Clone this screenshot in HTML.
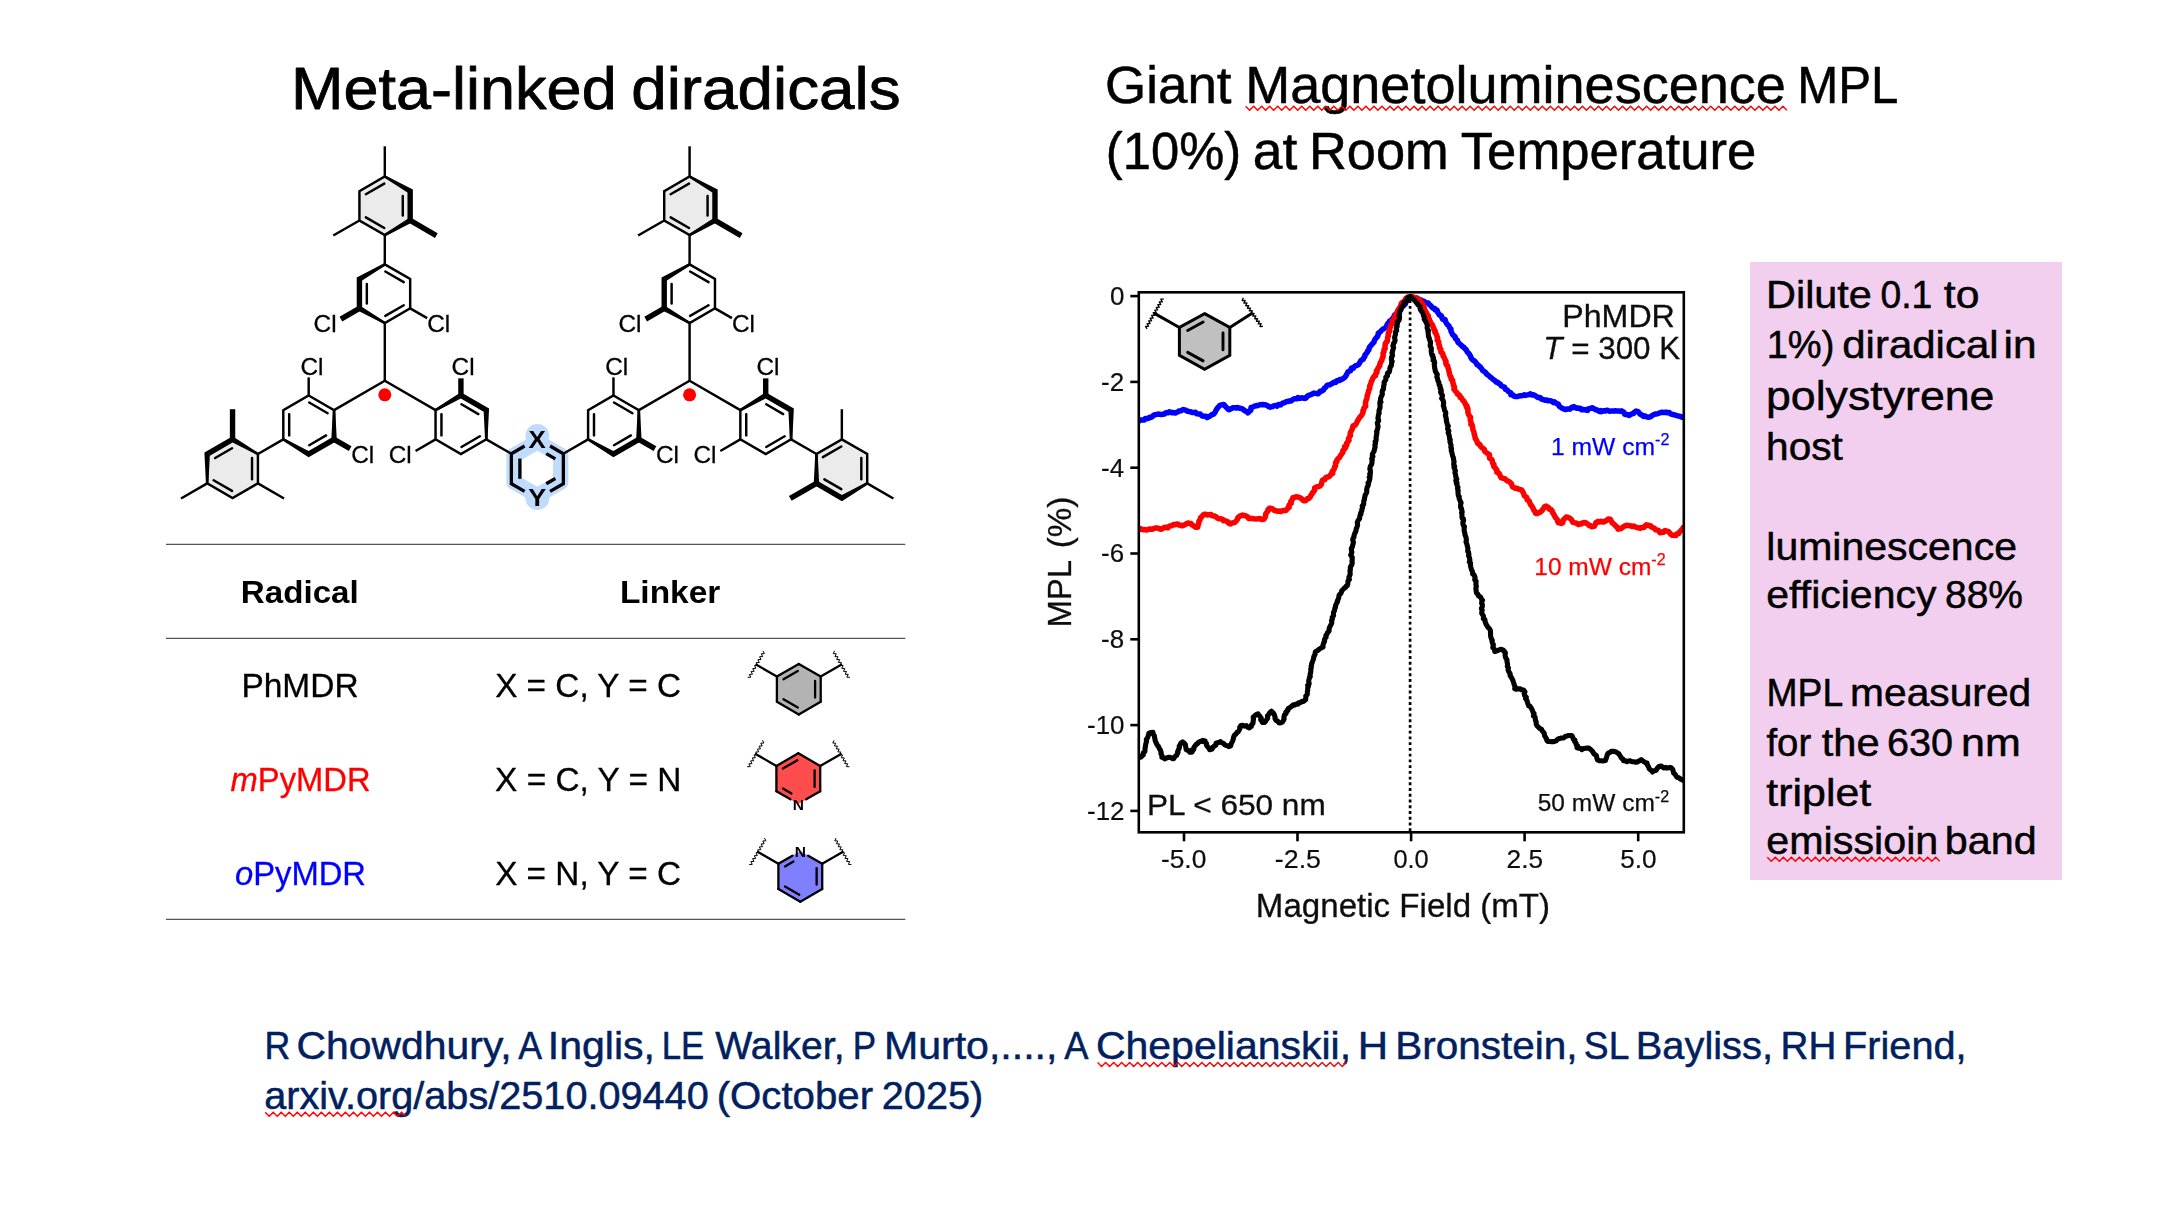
<!DOCTYPE html>
<html lang="en">
<head>
<meta charset="utf-8">
<title>Meta-linked diradicals</title>
<style>
html,body{margin:0;padding:0;background:#fff;}
body{width:2182px;height:1224px;}
svg{display:block;font-family:"Liberation Sans",sans-serif;}
</style>
</head>
<body>
<svg width="2182" height="1224" viewBox="0 0 2182 1224">
<defs><filter id="soft" x="-2%" y="-2%" width="104%" height="104%"><feGaussianBlur stdDeviation="0.45"/></filter></defs>
<rect x="0" y="0" width="2182" height="1224" fill="#fff"/>
<g id="titles">
<g>
<text x="291.04" y="108.50" font-size="58.8" textLength="325.66" lengthAdjust="spacingAndGlyphs" stroke="#000" stroke-width="0.8" stroke-linejoin="round">Meta-linked</text>
<text x="631.23" y="108.50" font-size="58.8" textLength="269.34" lengthAdjust="spacingAndGlyphs" stroke="#000" stroke-width="0.8" stroke-linejoin="round">diradicals</text>
</g>
<g>
<text x="1105.14" y="103.20" font-size="51.0" textLength="126.41" lengthAdjust="spacingAndGlyphs" stroke="#000" stroke-width="0.5" stroke-linejoin="round">Giant</text>
<text x="1245.21" y="103.20" font-size="51.0" textLength="540.69" lengthAdjust="spacingAndGlyphs" stroke="#000" stroke-width="0.5" stroke-linejoin="round">Magnetoluminescence</text>
<text x="1797.19" y="103.20" font-size="51.0" textLength="101.17" lengthAdjust="spacingAndGlyphs" stroke="#000" stroke-width="0.5" stroke-linejoin="round">MPL</text>
</g>
<g>
<text x="1105.87" y="169.00" font-size="51.0" textLength="135.31" lengthAdjust="spacingAndGlyphs" stroke="#000" stroke-width="0.5" stroke-linejoin="round">(10%)</text>
<text x="1252.75" y="169.00" font-size="51.0" textLength="44.57" lengthAdjust="spacingAndGlyphs" stroke="#000" stroke-width="0.5" stroke-linejoin="round">at</text>
<text x="1308.94" y="169.00" font-size="51.0" textLength="139.74" lengthAdjust="spacingAndGlyphs" stroke="#000" stroke-width="0.5" stroke-linejoin="round">Room</text>
<text x="1460.82" y="169.00" font-size="51.0" textLength="295.42" lengthAdjust="spacingAndGlyphs" stroke="#000" stroke-width="0.5" stroke-linejoin="round">Temperature</text>
</g>
<polyline points="1245.60,106.30 1249.61,110.30 1253.62,106.30 1257.63,110.30 1261.64,106.30 1265.65,110.30 1269.66,106.30 1273.67,110.30 1277.68,106.30 1281.69,110.30 1285.70,106.30 1289.71,110.30 1293.72,106.30 1297.73,110.30 1301.74,106.30 1305.75,110.30 1309.76,106.30 1313.77,110.30 1317.78,106.30 1321.79,110.30 1325.80,106.30 1329.81,110.30 1333.82,106.30 1337.83,110.30 1341.84,106.30 1345.85,110.30 1349.86,106.30 1353.87,110.30 1357.88,106.30 1361.89,110.30 1365.90,106.30 1369.91,110.30 1373.92,106.30 1377.93,110.30 1381.94,106.30 1385.95,110.30 1389.96,106.30 1393.97,110.30 1397.98,106.30 1401.99,110.30 1406.00,106.30 1410.01,110.30 1414.02,106.30 1418.03,110.30 1422.04,106.30 1426.05,110.30 1430.06,106.30 1434.07,110.30 1438.08,106.30 1442.09,110.30 1446.10,106.30 1450.11,110.30 1454.12,106.30 1458.13,110.30 1462.14,106.30 1466.15,110.30 1470.16,106.30 1474.17,110.30 1478.18,106.30 1482.19,110.30 1486.20,106.30 1490.21,110.30 1494.22,106.30 1498.23,110.30 1502.24,106.30 1506.25,110.30 1510.26,106.30 1514.27,110.30 1518.28,106.30 1522.29,110.30 1526.30,106.30 1530.31,110.30 1534.32,106.30 1538.33,110.30 1542.34,106.30 1546.35,110.30 1550.36,106.30 1554.37,110.30 1558.38,106.30 1562.39,110.30 1566.40,106.30 1570.41,110.30 1574.42,106.30 1578.43,110.30 1582.44,106.30 1586.45,110.30 1590.46,106.30 1594.47,110.30 1598.48,106.30 1602.49,110.30 1606.50,106.30 1610.51,110.30 1614.52,106.30 1618.53,110.30 1622.54,106.30 1626.55,110.30 1630.56,106.30 1634.57,110.30 1638.58,106.30 1642.59,110.30 1646.60,106.30 1650.61,110.30 1654.62,106.30 1658.63,110.30 1662.64,106.30 1666.65,110.30 1670.66,106.30 1674.67,110.30 1678.68,106.30 1682.69,110.30 1686.70,106.30 1690.71,110.30 1694.72,106.30 1698.73,110.30 1702.74,106.30 1706.75,110.30 1710.76,106.30 1714.77,110.30 1718.78,106.30 1722.79,110.30 1726.80,106.30 1730.81,110.30 1734.82,106.30 1738.83,110.30 1742.84,106.30 1746.85,110.30 1750.86,106.30 1754.87,110.30 1758.88,106.30 1762.89,110.30 1766.90,106.30 1770.91,110.30 1774.92,106.30 1778.93,110.30 1782.94,106.30 1786.95,110.30" fill="none" stroke="#f00" stroke-width="1.4" stroke-linejoin="miter"/>
</g>
<g id="note">
<rect x="1750" y="262" width="312" height="618" fill="#f2cfee"/>
<g>
<text x="1766.04" y="307.90" font-size="38.7" textLength="105.87" lengthAdjust="spacingAndGlyphs" stroke="#000" stroke-width="0.5" stroke-linejoin="round">Dilute</text>
<text x="1880.42" y="307.90" font-size="38.7" textLength="51.85" lengthAdjust="spacingAndGlyphs" stroke="#000" stroke-width="0.5" stroke-linejoin="round">0.1</text>
<text x="1943.85" y="307.90" font-size="38.7" textLength="35.60" lengthAdjust="spacingAndGlyphs" stroke="#000" stroke-width="0.5" stroke-linejoin="round">to</text>
</g>
<g>
<text x="1766.70" y="358.00" font-size="38.7" textLength="67.72" lengthAdjust="spacingAndGlyphs" stroke="#000" stroke-width="0.5" stroke-linejoin="round">1%)</text>
<text x="1842.28" y="358.00" font-size="38.7" textLength="156.31" lengthAdjust="spacingAndGlyphs" stroke="#000" stroke-width="0.5" stroke-linejoin="round">diradical</text>
<text x="2003.56" y="358.00" font-size="38.7" textLength="33.01" lengthAdjust="spacingAndGlyphs" stroke="#000" stroke-width="0.5" stroke-linejoin="round">in</text>
</g>
<g>
<text x="1766.02" y="409.60" font-size="41.5" textLength="228.43" lengthAdjust="spacingAndGlyphs" stroke="#000" stroke-width="0.5" stroke-linejoin="round">polystyrene</text>
</g>
<g>
<text x="1766.10" y="459.70" font-size="38.7" textLength="76.68" lengthAdjust="spacingAndGlyphs" stroke="#000" stroke-width="0.5" stroke-linejoin="round">host</text>
</g>
<g>
<text x="1766.27" y="559.80" font-size="38.7" textLength="250.72" lengthAdjust="spacingAndGlyphs" stroke="#000" stroke-width="0.5" stroke-linejoin="round">luminescence</text>
</g>
<g>
<text x="1766.33" y="607.90" font-size="38.7" textLength="170.13" lengthAdjust="spacingAndGlyphs" stroke="#000" stroke-width="0.5" stroke-linejoin="round">efficiency</text>
<text x="1945.04" y="607.90" font-size="38.7" textLength="77.96" lengthAdjust="spacingAndGlyphs" stroke="#000" stroke-width="0.5" stroke-linejoin="round">88%</text>
</g>
<g>
<text x="1766.56" y="706.00" font-size="38.7" textLength="76.70" lengthAdjust="spacingAndGlyphs" stroke="#000" stroke-width="0.5" stroke-linejoin="round">MPL</text>
<text x="1850.09" y="706.00" font-size="38.7" textLength="181.17" lengthAdjust="spacingAndGlyphs" stroke="#000" stroke-width="0.5" stroke-linejoin="round">measured</text>
</g>
<g>
<text x="1766.46" y="755.60" font-size="38.7" textLength="44.74" lengthAdjust="spacingAndGlyphs" stroke="#000" stroke-width="0.5" stroke-linejoin="round">for</text>
<text x="1821.77" y="755.60" font-size="38.7" textLength="57.89" lengthAdjust="spacingAndGlyphs" stroke="#000" stroke-width="0.5" stroke-linejoin="round">the</text>
<text x="1887.10" y="755.60" font-size="38.7" textLength="66.04" lengthAdjust="spacingAndGlyphs" stroke="#000" stroke-width="0.5" stroke-linejoin="round">630</text>
<text x="1961.02" y="755.60" font-size="38.7" textLength="59.68" lengthAdjust="spacingAndGlyphs" stroke="#000" stroke-width="0.5" stroke-linejoin="round">nm</text>
</g>
<g>
<text x="1766.34" y="805.70" font-size="38.7" textLength="104.88" lengthAdjust="spacingAndGlyphs" stroke="#000" stroke-width="0.5" stroke-linejoin="round">triplet</text>
</g>
<g>
<text x="1766.32" y="853.70" font-size="38.7" textLength="171.93" lengthAdjust="spacingAndGlyphs" stroke="#000" stroke-width="0.5" stroke-linejoin="round">emissioin</text>
<text x="1944.85" y="853.70" font-size="38.7" textLength="91.78" lengthAdjust="spacingAndGlyphs" stroke="#000" stroke-width="0.5" stroke-linejoin="round">band</text>
</g>
<polyline points="1767.30,857.20 1771.31,861.20 1775.32,857.20 1779.33,861.20 1783.34,857.20 1787.35,861.20 1791.36,857.20 1795.37,861.20 1799.38,857.20 1803.39,861.20 1807.40,857.20 1811.41,861.20 1815.42,857.20 1819.43,861.20 1823.44,857.20 1827.45,861.20 1831.46,857.20 1835.47,861.20 1839.48,857.20 1843.49,861.20 1847.50,857.20 1851.51,861.20 1855.52,857.20 1859.53,861.20 1863.54,857.20 1867.55,861.20 1871.56,857.20 1875.57,861.20 1879.58,857.20 1883.59,861.20 1887.60,857.20 1891.61,861.20 1895.62,857.20 1899.63,861.20 1903.64,857.20 1907.65,861.20 1911.66,857.20 1915.67,861.20 1919.68,857.20 1923.69,861.20 1927.70,857.20 1931.71,861.20 1935.72,857.20 1939.73,861.20" fill="none" stroke="#f00" stroke-width="1.4" stroke-linejoin="miter"/>
</g>
<g id="cite">
<g>
<text x="264.38" y="1058.90" font-size="38.7" textLength="25.77" lengthAdjust="spacingAndGlyphs" fill="#002060" stroke="#002060" stroke-width="0.5" stroke-linejoin="round">R</text>
<text x="296.54" y="1058.90" font-size="38.7" textLength="215.18" lengthAdjust="spacingAndGlyphs" fill="#002060" stroke="#002060" stroke-width="0.5" stroke-linejoin="round">Chowdhury,</text>
<text x="518.25" y="1058.90" font-size="38.7" textLength="23.83" lengthAdjust="spacingAndGlyphs" fill="#002060" stroke="#002060" stroke-width="0.5" stroke-linejoin="round">A</text>
<text x="547.81" y="1058.90" font-size="38.7" textLength="107.21" lengthAdjust="spacingAndGlyphs" fill="#002060" stroke="#002060" stroke-width="0.5" stroke-linejoin="round">Inglis,</text>
<text x="661.76" y="1058.90" font-size="38.7" textLength="42.49" lengthAdjust="spacingAndGlyphs" fill="#002060" stroke="#002060" stroke-width="0.5" stroke-linejoin="round">LE</text>
<text x="715.35" y="1058.90" font-size="38.7" textLength="129.19" lengthAdjust="spacingAndGlyphs" fill="#002060" stroke="#002060" stroke-width="0.5" stroke-linejoin="round">Walker,</text>
<text x="852.84" y="1058.90" font-size="38.7" textLength="23.35" lengthAdjust="spacingAndGlyphs" fill="#002060" stroke="#002060" stroke-width="0.5" stroke-linejoin="round">P</text>
<text x="883.96" y="1058.90" font-size="38.7" textLength="173.49" lengthAdjust="spacingAndGlyphs" fill="#002060" stroke="#002060" stroke-width="0.5" stroke-linejoin="round">Murto,....,</text>
<text x="1064.15" y="1058.90" font-size="38.7" textLength="24.22" lengthAdjust="spacingAndGlyphs" fill="#002060" stroke="#002060" stroke-width="0.5" stroke-linejoin="round">A</text>
<text x="1095.93" y="1058.90" font-size="38.7" textLength="255.11" lengthAdjust="spacingAndGlyphs" fill="#002060" stroke="#002060" stroke-width="0.5" stroke-linejoin="round">Chepelianskii,</text>
<text x="1357.69" y="1058.90" font-size="38.7" textLength="30.37" lengthAdjust="spacingAndGlyphs" fill="#002060" stroke="#002060" stroke-width="0.5" stroke-linejoin="round">H</text>
<text x="1395.31" y="1058.90" font-size="38.7" textLength="182.29" lengthAdjust="spacingAndGlyphs" fill="#002060" stroke="#002060" stroke-width="0.5" stroke-linejoin="round">Bronstein,</text>
<text x="1583.83" y="1058.90" font-size="38.7" textLength="45.50" lengthAdjust="spacingAndGlyphs" fill="#002060" stroke="#002060" stroke-width="0.5" stroke-linejoin="round">SL</text>
<text x="1635.76" y="1058.90" font-size="38.7" textLength="137.29" lengthAdjust="spacingAndGlyphs" fill="#002060" stroke="#002060" stroke-width="0.5" stroke-linejoin="round">Bayliss,</text>
<text x="1780.56" y="1058.90" font-size="38.7" textLength="55.78" lengthAdjust="spacingAndGlyphs" fill="#002060" stroke="#002060" stroke-width="0.5" stroke-linejoin="round">RH</text>
<text x="1843.07" y="1058.90" font-size="38.7" textLength="123.49" lengthAdjust="spacingAndGlyphs" fill="#002060" stroke="#002060" stroke-width="0.5" stroke-linejoin="round">Friend,</text>
</g>
<g>
<text x="264.20" y="1108.50" font-size="38.7" textLength="444.54" lengthAdjust="spacingAndGlyphs" fill="#002060" stroke="#002060" stroke-width="0.5" stroke-linejoin="round">arxiv.org/abs/2510.09440</text>
<text x="716.67" y="1108.50" font-size="38.7" textLength="156.40" lengthAdjust="spacingAndGlyphs" fill="#002060" stroke="#002060" stroke-width="0.5" stroke-linejoin="round">(October</text>
<text x="881.80" y="1108.50" font-size="38.7" textLength="101.37" lengthAdjust="spacingAndGlyphs" fill="#002060" stroke="#002060" stroke-width="0.5" stroke-linejoin="round">2025)</text>
</g>
</g>
<polyline points="1097.60,1062.50 1101.61,1066.50 1105.62,1062.50 1109.63,1066.50 1113.64,1062.50 1117.65,1066.50 1121.66,1062.50 1125.67,1066.50 1129.68,1062.50 1133.69,1066.50 1137.70,1062.50 1141.71,1066.50 1145.72,1062.50 1149.73,1066.50 1153.74,1062.50 1157.75,1066.50 1161.76,1062.50 1165.77,1066.50 1169.78,1062.50 1173.79,1066.50 1177.80,1062.50 1181.81,1066.50 1185.82,1062.50 1189.83,1066.50 1193.84,1062.50 1197.85,1066.50 1201.86,1062.50 1205.87,1066.50 1209.88,1062.50 1213.89,1066.50 1217.90,1062.50 1221.91,1066.50 1225.92,1062.50 1229.93,1066.50 1233.94,1062.50 1237.95,1066.50 1241.96,1062.50 1245.97,1066.50 1249.98,1062.50 1253.99,1066.50 1258.00,1062.50 1262.01,1066.50 1266.02,1062.50 1270.03,1066.50 1274.04,1062.50 1278.05,1066.50 1282.06,1062.50 1286.07,1066.50 1290.08,1062.50 1294.09,1066.50 1298.10,1062.50 1302.11,1066.50 1306.12,1062.50 1310.13,1066.50 1314.14,1062.50 1318.15,1066.50 1322.16,1062.50 1326.17,1066.50 1330.18,1062.50 1334.19,1066.50 1338.20,1062.50 1342.21,1066.50 1346.22,1062.50" fill="none" stroke="#f00" stroke-width="1.4" stroke-linejoin="miter"/>
<polyline points="265.20,1112.30 269.21,1116.30 273.22,1112.30 277.23,1116.30 281.24,1112.30 285.25,1116.30 289.26,1112.30 293.27,1116.30 297.28,1112.30 301.29,1116.30 305.30,1112.30 309.31,1116.30 313.32,1112.30 317.33,1116.30 321.34,1112.30 325.35,1116.30 329.36,1112.30 333.37,1116.30 337.38,1112.30 341.39,1116.30 345.40,1112.30 349.41,1116.30 353.42,1112.30 357.43,1116.30 361.44,1112.30 365.45,1116.30 369.46,1112.30 373.47,1116.30 377.48,1112.30 381.49,1116.30 385.50,1112.30 389.51,1116.30 393.52,1112.30 397.53,1116.30 401.54,1112.30 405.55,1116.30" fill="none" stroke="#f00" stroke-width="1.4" stroke-linejoin="miter"/>
<g id="molecule" filter="url(#soft)">
<polygon points="537.35,441.80 560.64,455.25 560.64,482.15 537.35,495.60 514.05,482.15 514.05,455.25" fill="none" stroke="#c0dcfc" stroke-width="15.4" stroke-linejoin="round"/>
<circle cx="537.35" cy="435.8" r="11.9" fill="#c0dcfc"/>
<circle cx="537.35" cy="498.2" r="11.9" fill="#c0dcfc"/>
<g stroke="#000" fill="none">
<line x1="384.80" y1="380.80" x2="384.80" y2="323.00" stroke-width="2.45" stroke-linecap="butt"/>
<polygon points="384.80,264.40 410.17,279.05 410.17,308.35 384.80,323.00 359.43,308.35 359.43,279.05" fill="none" stroke-width="2.45" stroke-linejoin="miter"/>
<line x1="366.83" y1="303.48" x2="366.83" y2="283.92" stroke-width="2.45" stroke-linecap="round"/>
<line x1="385.32" y1="271.51" x2="403.75" y2="282.16" stroke-width="2.45" stroke-linecap="round"/>
<line x1="403.75" y1="305.24" x2="385.32" y2="315.89" stroke-width="2.45" stroke-linecap="round"/>
<polygon points="384.19,263.34 356.73,277.40 356.73,310.00 384.19,324.06 385.41,321.94 362.13,306.88 362.13,280.52 385.41,265.46" fill="#000" stroke="none"/>
<line x1="359.86" y1="308.10" x2="340.89" y2="319.05" stroke-width="5.4" stroke-linecap="butt"/>
<line x1="410.17" y1="308.35" x2="427.15" y2="318.15" stroke-width="2.45" stroke-linecap="butt"/>
<line x1="384.80" y1="264.40" x2="384.80" y2="235.10" stroke-width="2.45" stroke-linecap="butt"/>
<polygon points="384.80,176.50 410.17,191.15 410.17,220.45 384.80,235.10 359.43,220.45 359.43,191.15" fill="#ebebeb" stroke-width="2.45" stroke-linejoin="miter"/>
<line x1="365.85" y1="194.26" x2="384.28" y2="183.61" stroke-width="2.45" stroke-linecap="round"/>
<line x1="402.77" y1="196.02" x2="402.77" y2="215.58" stroke-width="2.45" stroke-linecap="round"/>
<line x1="384.28" y1="227.99" x2="365.85" y2="217.34" stroke-width="2.45" stroke-linecap="round"/>
<polygon points="384.19,177.56 407.47,192.62 407.47,218.98 384.19,234.04 385.41,236.16 412.87,222.10 412.87,189.50 385.41,175.44" fill="#000" stroke="none"/>
<line x1="384.80" y1="176.50" x2="384.80" y2="146.30" stroke-width="2.45" stroke-linecap="butt"/>
<line x1="359.43" y1="220.45" x2="333.27" y2="235.55" stroke-width="2.45" stroke-linecap="butt"/>
<line x1="409.74" y1="220.20" x2="436.33" y2="235.55" stroke-width="5.4" stroke-linecap="butt"/>
<polygon points="308.68,395.45 334.05,410.10 334.05,439.40 308.68,454.05 283.30,439.40 283.30,410.10" fill="none" stroke-width="2.45" stroke-linejoin="miter"/>
<line x1="309.20" y1="402.56" x2="327.63" y2="413.21" stroke-width="2.45" stroke-linecap="round"/>
<line x1="326.13" y1="435.43" x2="309.20" y2="445.21" stroke-width="2.45" stroke-linecap="round"/>
<line x1="289.20" y1="435.39" x2="289.20" y2="414.11" stroke-width="2.45" stroke-linecap="round"/>
<polygon points="332.83,410.10 331.43,437.79 308.60,450.98 283.91,438.34 282.69,440.46 308.60,457.21 336.83,440.91 335.28,410.10" fill="#000" stroke="none"/>
<line x1="384.80" y1="380.80" x2="334.05" y2="410.10" stroke-width="2.45" stroke-linecap="butt"/>
<line x1="308.68" y1="395.45" x2="308.68" y2="377.35" stroke-width="2.45" stroke-linecap="butt"/>
<line x1="333.62" y1="439.15" x2="350.16" y2="448.70" stroke-width="5.4" stroke-linecap="butt"/>
<polygon points="460.92,395.45 486.30,410.10 486.30,439.40 460.92,454.05 435.55,439.40 435.55,410.10" fill="none" stroke-width="2.45" stroke-linejoin="miter"/>
<line x1="441.45" y1="435.39" x2="441.45" y2="414.11" stroke-width="2.45" stroke-linecap="round"/>
<line x1="461.44" y1="404.29" x2="478.38" y2="414.07" stroke-width="2.45" stroke-linecap="round"/>
<line x1="479.88" y1="436.29" x2="461.44" y2="446.94" stroke-width="2.45" stroke-linecap="round"/>
<polygon points="436.16,411.16 460.84,398.52 483.68,411.71 485.07,439.40 487.52,439.40 489.07,408.59 460.85,392.29 434.94,409.04" fill="#000" stroke="none"/>
<line x1="384.80" y1="380.80" x2="435.55" y2="410.10" stroke-width="2.45" stroke-linecap="butt"/>
<line x1="460.92" y1="395.95" x2="460.92" y2="378.35" stroke-width="5.4" stroke-linecap="butt"/>
<line x1="435.55" y1="439.40" x2="415.54" y2="450.95" stroke-width="2.45" stroke-linecap="butt"/>
<polygon points="232.55,439.40 257.93,454.05 257.93,483.35 232.55,498.00 207.18,483.35 207.18,454.05" fill="#ebebeb" stroke-width="2.45" stroke-linejoin="miter"/>
<line x1="215.10" y1="458.02" x2="232.03" y2="448.24" stroke-width="2.45" stroke-linecap="round"/>
<line x1="252.03" y1="458.06" x2="252.03" y2="479.34" stroke-width="2.45" stroke-linecap="round"/>
<line x1="232.03" y1="490.89" x2="213.60" y2="480.24" stroke-width="2.45" stroke-linecap="round"/>
<polygon points="258.54,452.99 232.63,436.24 204.40,452.54 205.95,483.35 208.40,483.35 209.80,455.66 232.63,442.47 257.31,455.11" fill="#000" stroke="none"/>
<line x1="283.30" y1="439.40" x2="257.93" y2="454.05" stroke-width="2.45" stroke-linecap="butt"/>
<line x1="232.55" y1="439.90" x2="232.55" y2="409.20" stroke-width="5.4" stroke-linecap="butt"/>
<line x1="207.18" y1="483.35" x2="181.02" y2="498.45" stroke-width="2.45" stroke-linecap="butt"/>
<line x1="257.93" y1="483.35" x2="284.08" y2="498.45" stroke-width="2.45" stroke-linecap="butt"/>
<line x1="689.59" y1="380.80" x2="689.59" y2="323.00" stroke-width="2.45" stroke-linecap="butt"/>
<polygon points="689.59,264.40 714.97,279.05 714.97,308.35 689.59,323.00 664.22,308.35 664.22,279.05" fill="none" stroke-width="2.45" stroke-linejoin="miter"/>
<line x1="671.62" y1="303.48" x2="671.62" y2="283.92" stroke-width="2.45" stroke-linecap="round"/>
<line x1="690.11" y1="271.51" x2="708.55" y2="282.16" stroke-width="2.45" stroke-linecap="round"/>
<line x1="708.55" y1="305.24" x2="690.11" y2="315.89" stroke-width="2.45" stroke-linecap="round"/>
<polygon points="688.98,263.34 661.52,277.40 661.52,310.00 688.98,324.06 690.21,321.94 666.92,306.88 666.92,280.52 690.21,265.46" fill="#000" stroke="none"/>
<line x1="664.65" y1="308.10" x2="645.69" y2="319.05" stroke-width="5.4" stroke-linecap="butt"/>
<line x1="714.97" y1="308.35" x2="731.94" y2="318.15" stroke-width="2.45" stroke-linecap="butt"/>
<line x1="689.59" y1="264.40" x2="689.59" y2="235.10" stroke-width="2.45" stroke-linecap="butt"/>
<polygon points="689.59,176.50 714.97,191.15 714.97,220.45 689.59,235.10 664.22,220.45 664.22,191.15" fill="#ebebeb" stroke-width="2.45" stroke-linejoin="miter"/>
<line x1="670.64" y1="194.26" x2="689.07" y2="183.61" stroke-width="2.45" stroke-linecap="round"/>
<line x1="707.57" y1="196.02" x2="707.57" y2="215.58" stroke-width="2.45" stroke-linecap="round"/>
<line x1="689.07" y1="227.99" x2="670.64" y2="217.34" stroke-width="2.45" stroke-linecap="round"/>
<polygon points="688.98,177.56 712.27,192.62 712.27,218.98 688.98,234.04 690.21,236.16 717.67,222.10 717.67,189.50 690.21,175.44" fill="#000" stroke="none"/>
<line x1="689.59" y1="176.50" x2="689.59" y2="146.30" stroke-width="2.45" stroke-linecap="butt"/>
<line x1="664.22" y1="220.45" x2="638.07" y2="235.55" stroke-width="2.45" stroke-linecap="butt"/>
<line x1="714.54" y1="220.20" x2="741.12" y2="235.55" stroke-width="5.4" stroke-linecap="butt"/>
<polygon points="613.47,395.45 638.85,410.10 638.85,439.40 613.47,454.05 588.10,439.40 588.10,410.10" fill="none" stroke-width="2.45" stroke-linejoin="miter"/>
<line x1="613.99" y1="402.56" x2="632.43" y2="413.21" stroke-width="2.45" stroke-linecap="round"/>
<line x1="630.93" y1="435.43" x2="613.99" y2="445.21" stroke-width="2.45" stroke-linecap="round"/>
<line x1="594.00" y1="435.39" x2="594.00" y2="414.11" stroke-width="2.45" stroke-linecap="round"/>
<polygon points="637.62,410.10 636.23,437.79 613.39,450.98 588.71,438.34 587.48,440.46 613.39,457.21 641.62,440.91 640.07,410.10" fill="#000" stroke="none"/>
<line x1="689.59" y1="380.80" x2="638.85" y2="410.10" stroke-width="2.45" stroke-linecap="butt"/>
<line x1="613.47" y1="395.45" x2="613.47" y2="377.35" stroke-width="2.45" stroke-linecap="butt"/>
<line x1="638.41" y1="439.15" x2="654.95" y2="448.70" stroke-width="5.4" stroke-linecap="butt"/>
<polygon points="765.72,395.45 791.09,410.10 791.09,439.40 765.72,454.05 740.34,439.40 740.34,410.10" fill="none" stroke-width="2.45" stroke-linejoin="miter"/>
<line x1="746.24" y1="435.39" x2="746.24" y2="414.11" stroke-width="2.45" stroke-linecap="round"/>
<line x1="766.24" y1="404.29" x2="783.17" y2="414.07" stroke-width="2.45" stroke-linecap="round"/>
<line x1="784.67" y1="436.29" x2="766.24" y2="446.94" stroke-width="2.45" stroke-linecap="round"/>
<polygon points="740.96,411.16 765.64,398.52 788.47,411.71 789.87,439.40 792.32,439.40 793.87,408.59 765.64,392.29 739.73,409.04" fill="#000" stroke="none"/>
<line x1="689.59" y1="380.80" x2="740.34" y2="410.10" stroke-width="2.45" stroke-linecap="butt"/>
<line x1="765.72" y1="395.95" x2="765.72" y2="378.35" stroke-width="5.4" stroke-linecap="butt"/>
<line x1="740.34" y1="439.40" x2="720.34" y2="450.95" stroke-width="2.45" stroke-linecap="butt"/>
<polygon points="841.84,439.40 867.22,454.05 867.22,483.35 841.84,498.00 816.47,483.35 816.47,454.05" fill="#ebebeb" stroke-width="2.45" stroke-linejoin="miter"/>
<line x1="822.89" y1="457.16" x2="841.32" y2="446.51" stroke-width="2.45" stroke-linecap="round"/>
<line x1="861.32" y1="458.06" x2="861.32" y2="479.34" stroke-width="2.45" stroke-linecap="round"/>
<line x1="841.32" y1="489.16" x2="824.39" y2="479.38" stroke-width="2.45" stroke-linecap="round"/>
<polygon points="815.24,454.05 813.69,484.86 841.92,501.16 867.83,484.41 866.60,482.29 841.92,494.93 819.09,481.74 817.69,454.05" fill="#000" stroke="none"/>
<line x1="791.09" y1="439.40" x2="816.47" y2="454.05" stroke-width="2.45" stroke-linecap="butt"/>
<line x1="841.84" y1="439.40" x2="841.84" y2="409.20" stroke-width="2.45" stroke-linecap="butt"/>
<line x1="867.22" y1="483.35" x2="893.37" y2="498.45" stroke-width="2.45" stroke-linecap="butt"/>
<line x1="816.90" y1="483.10" x2="790.31" y2="498.45" stroke-width="5.4" stroke-linecap="butt"/>
<line x1="486.30" y1="439.40" x2="511.37" y2="453.70" stroke-width="2.45"/>
<line x1="588.10" y1="439.40" x2="563.33" y2="453.70" stroke-width="2.45"/>
<polyline points="524.62,446.05 511.37,453.70 511.37,483.70 524.62,491.35" stroke-width="3.3" stroke-linejoin="miter"/>
<polyline points="550.08,446.05 563.33,453.70 563.33,483.70 550.08,491.35" stroke-width="3.3" stroke-linejoin="miter"/>
<line x1="519.87" y1="478.79" x2="519.87" y2="458.61" stroke-width="3.3"/>
<line x1="546.26" y1="453.66" x2="555.35" y2="458.91" stroke-width="3.3"/>
<line x1="555.35" y1="478.49" x2="546.26" y2="483.74" stroke-width="3.3"/>
</g>
<text x="313.60" y="331.60" font-size="24.3" stroke="#000" stroke-width="0.3">Cl</text>
<text x="427.20" y="331.60" font-size="24.3" stroke="#000" stroke-width="0.3">Cl</text>
<text x="300.40" y="375.00" font-size="24.3" stroke="#000" stroke-width="0.3">Cl</text>
<text x="351.20" y="462.80" font-size="24.3" stroke="#000" stroke-width="0.3">Cl</text>
<text x="451.60" y="375.00" font-size="24.3" stroke="#000" stroke-width="0.3">Cl</text>
<text x="388.80" y="462.80" font-size="24.3" stroke="#000" stroke-width="0.3">Cl</text>
<text x="618.39" y="331.60" font-size="24.3" stroke="#000" stroke-width="0.3">Cl</text>
<text x="731.99" y="331.60" font-size="24.3" stroke="#000" stroke-width="0.3">Cl</text>
<text x="605.19" y="375.00" font-size="24.3" stroke="#000" stroke-width="0.3">Cl</text>
<text x="655.99" y="462.80" font-size="24.3" stroke="#000" stroke-width="0.3">Cl</text>
<text x="756.39" y="375.00" font-size="24.3" stroke="#000" stroke-width="0.3">Cl</text>
<text x="693.59" y="462.80" font-size="24.3" stroke="#000" stroke-width="0.3">Cl</text>
<text x="528.52" y="447.50" font-size="24.0" textLength="17.27" lengthAdjust="spacingAndGlyphs" font-weight="700">X</text>
<text x="528.18" y="505.90" font-size="24.0" textLength="17.96" lengthAdjust="spacingAndGlyphs" font-weight="700">Y</text>
<circle cx="384.80" cy="394.80" r="6.5" fill="#f00"/>
<circle cx="689.59" cy="394.80" r="6.5" fill="#f00"/>
</g>
<line x1="166" y1="544.4" x2="905.3" y2="544.4" stroke="#555" stroke-width="1.3"/>
<line x1="166" y1="638.3" x2="905.3" y2="638.3" stroke="#555" stroke-width="1.3"/>
<line x1="166" y1="919.4" x2="905.3" y2="919.4" stroke="#555" stroke-width="1.3"/>
<g id="table" filter="url(#soft)">
<text x="240.83" y="603.30" font-size="32.0" textLength="117.86" lengthAdjust="spacingAndGlyphs" font-weight="700">Radical</text>
<text x="619.91" y="603.30" font-size="32.0" textLength="100.47" lengthAdjust="spacingAndGlyphs" font-weight="700">Linker</text>
<text x="241.43" y="696.90" font-size="33.2" textLength="117.13" lengthAdjust="spacingAndGlyphs" stroke="#000" stroke-width="0.3" stroke-linejoin="round">PhMDR</text>
<text x="230.56" y="790.70" font-size="33.2" textLength="140.03" lengthAdjust="spacingAndGlyphs" fill="#f00" stroke="#f00" stroke-width="0.3" stroke-linejoin="round"><tspan font-style="italic">m</tspan>PyMDR</text>
<text x="234.96" y="884.60" font-size="33.2" textLength="131.04" lengthAdjust="spacingAndGlyphs" fill="#00f" stroke="#00f" stroke-width="0.3" stroke-linejoin="round"><tspan font-style="italic">o</tspan>PyMDR</text>
<text x="495.15" y="696.90" font-size="33.2" textLength="185.81" lengthAdjust="spacingAndGlyphs" stroke="#000" stroke-width="0.3" stroke-linejoin="round">X = C, Y = C</text>
<text x="495.14" y="790.70" font-size="33.2" textLength="186.32" lengthAdjust="spacingAndGlyphs" stroke="#000" stroke-width="0.3" stroke-linejoin="round">X = C, Y = N</text>
<text x="495.15" y="884.60" font-size="33.2" textLength="185.81" lengthAdjust="spacingAndGlyphs" stroke="#000" stroke-width="0.3" stroke-linejoin="round">X = N, Y = C</text>
<polygon points="798.80,663.90 820.71,676.55 820.71,701.85 798.80,714.50 776.89,701.85 776.89,676.55" fill="#b3b3b3" stroke="none"/>
<line x1="798.80" y1="663.90" x2="820.71" y2="676.55" stroke="#000" stroke-width="2.3" stroke-linecap="round"/>
<line x1="820.71" y1="676.55" x2="820.71" y2="701.85" stroke="#000" stroke-width="2.3" stroke-linecap="round"/>
<line x1="820.71" y1="701.85" x2="798.80" y2="714.50" stroke="#000" stroke-width="2.3" stroke-linecap="round"/>
<line x1="798.80" y1="714.50" x2="776.89" y2="701.85" stroke="#000" stroke-width="2.3" stroke-linecap="round"/>
<line x1="776.89" y1="701.85" x2="776.89" y2="676.55" stroke="#000" stroke-width="2.3" stroke-linecap="round"/>
<line x1="776.89" y1="676.55" x2="798.80" y2="663.90" stroke="#000" stroke-width="2.3" stroke-linecap="round"/>
<line x1="783.47" y1="679.22" x2="797.82" y2="670.93" stroke="#000" stroke-width="2.3" stroke-linecap="round"/>
<line x1="815.11" y1="680.91" x2="815.11" y2="697.49" stroke="#000" stroke-width="2.3" stroke-linecap="round"/>
<line x1="797.82" y1="707.47" x2="783.47" y2="699.18" stroke="#000" stroke-width="2.3" stroke-linecap="round"/>
<line x1="776.89" y1="676.55" x2="756.45" y2="664.75" stroke="#000" stroke-width="2.3" stroke-linecap="round"/>
<polyline points="747.68,677.35 750.78,677.18 749.38,674.41 752.48,674.23 751.08,671.46 754.18,671.29 752.78,668.52 755.88,668.34 754.48,665.57 757.58,665.40 756.18,662.63 759.28,662.46 757.88,659.68 760.98,659.51 759.58,656.74 762.68,656.57 761.28,653.79 764.38,653.62 762.98,650.85" fill="none" stroke="#000" stroke-width="1.0" stroke-linejoin="round"/>
<line x1="820.71" y1="676.55" x2="841.15" y2="664.75" stroke="#000" stroke-width="2.3" stroke-linecap="round"/>
<polyline points="834.62,650.85 833.22,653.62 836.32,653.79 834.92,656.57 838.02,656.74 836.62,659.51 839.72,659.68 838.32,662.46 841.42,662.63 840.02,665.40 843.12,665.57 841.72,668.34 844.82,668.52 843.42,671.29 846.52,671.46 845.12,674.23 848.22,674.41 846.82,677.18 849.92,677.35" fill="none" stroke="#000" stroke-width="1.0" stroke-linejoin="round"/>
<polygon points="798.30,753.30 820.21,765.95 820.21,791.25 798.30,803.90 776.39,791.25 776.39,765.95" fill="#ff4d4d" stroke="none"/>
<line x1="798.30" y1="753.30" x2="820.21" y2="765.95" stroke="#000" stroke-width="2.3" stroke-linecap="round"/>
<line x1="820.21" y1="765.95" x2="820.21" y2="791.25" stroke="#000" stroke-width="2.3" stroke-linecap="round"/>
<line x1="820.21" y1="791.25" x2="806.19" y2="799.35" stroke="#000" stroke-width="2.3" stroke-linecap="round"/>
<line x1="790.41" y1="799.35" x2="776.39" y2="791.25" stroke="#000" stroke-width="2.3" stroke-linecap="round"/>
<line x1="776.39" y1="791.25" x2="776.39" y2="765.95" stroke="#000" stroke-width="2.3" stroke-linecap="round"/>
<line x1="776.39" y1="765.95" x2="798.30" y2="753.30" stroke="#000" stroke-width="2.3" stroke-linecap="round"/>
<line x1="782.97" y1="768.62" x2="797.32" y2="760.33" stroke="#000" stroke-width="2.3" stroke-linecap="round"/>
<line x1="814.61" y1="770.31" x2="814.61" y2="786.89" stroke="#000" stroke-width="2.3" stroke-linecap="round"/>
<line x1="791.45" y1="793.48" x2="782.97" y2="788.58" stroke="#000" stroke-width="2.3" stroke-linecap="round"/>
<line x1="776.39" y1="765.95" x2="755.95" y2="754.15" stroke="#000" stroke-width="2.3" stroke-linecap="round"/>
<polyline points="747.18,766.75 750.28,766.58 748.88,763.81 751.98,763.63 750.58,760.86 753.68,760.69 752.28,757.92 755.38,757.74 753.98,754.97 757.08,754.80 755.68,752.03 758.78,751.86 757.38,749.08 760.48,748.91 759.08,746.14 762.18,745.97 760.78,743.19 763.88,743.02 762.48,740.25" fill="none" stroke="#000" stroke-width="1.0" stroke-linejoin="round"/>
<line x1="820.21" y1="765.95" x2="840.65" y2="754.15" stroke="#000" stroke-width="2.3" stroke-linecap="round"/>
<polyline points="834.12,740.25 832.72,743.02 835.82,743.19 834.42,745.97 837.52,746.14 836.12,748.91 839.22,749.08 837.82,751.86 840.92,752.03 839.52,754.80 842.62,754.97 841.22,757.74 844.32,757.92 842.92,760.69 846.02,760.86 844.62,763.63 847.72,763.81 846.32,766.58 849.42,766.75" fill="none" stroke="#000" stroke-width="1.0" stroke-linejoin="round"/>
<text x="798.30" y="809.50" font-size="15.5" font-weight="700" text-anchor="middle">N</text>
<polygon points="800.30,851.10 822.21,863.75 822.21,889.05 800.30,901.70 778.39,889.05 778.39,863.75" fill="#8080ff" stroke="none"/>
<line x1="808.19" y1="855.65" x2="822.21" y2="863.75" stroke="#000" stroke-width="2.3" stroke-linecap="round"/>
<line x1="822.21" y1="863.75" x2="822.21" y2="889.05" stroke="#000" stroke-width="2.3" stroke-linecap="round"/>
<line x1="822.21" y1="889.05" x2="800.30" y2="901.70" stroke="#000" stroke-width="2.3" stroke-linecap="round"/>
<line x1="800.30" y1="901.70" x2="778.39" y2="889.05" stroke="#000" stroke-width="2.3" stroke-linecap="round"/>
<line x1="778.39" y1="889.05" x2="778.39" y2="863.75" stroke="#000" stroke-width="2.3" stroke-linecap="round"/>
<line x1="778.39" y1="863.75" x2="792.41" y2="855.65" stroke="#000" stroke-width="2.3" stroke-linecap="round"/>
<line x1="784.97" y1="866.42" x2="793.45" y2="861.52" stroke="#000" stroke-width="2.3" stroke-linecap="round"/>
<line x1="816.61" y1="868.11" x2="816.61" y2="884.69" stroke="#000" stroke-width="2.3" stroke-linecap="round"/>
<line x1="799.32" y1="894.67" x2="784.97" y2="886.38" stroke="#000" stroke-width="2.3" stroke-linecap="round"/>
<line x1="778.39" y1="863.75" x2="757.95" y2="851.95" stroke="#000" stroke-width="2.3" stroke-linecap="round"/>
<polyline points="749.18,864.55 752.28,864.38 750.88,861.61 753.98,861.43 752.58,858.66 755.68,858.49 754.28,855.72 757.38,855.54 755.98,852.77 759.08,852.60 757.68,849.83 760.78,849.66 759.38,846.88 762.48,846.71 761.08,843.94 764.18,843.77 762.78,840.99 765.88,840.82 764.48,838.05" fill="none" stroke="#000" stroke-width="1.0" stroke-linejoin="round"/>
<line x1="822.21" y1="863.75" x2="842.65" y2="851.95" stroke="#000" stroke-width="2.3" stroke-linecap="round"/>
<polyline points="836.12,838.05 834.72,840.82 837.82,840.99 836.42,843.77 839.52,843.94 838.12,846.71 841.22,846.88 839.82,849.66 842.92,849.83 841.52,852.60 844.62,852.77 843.22,855.54 846.32,855.72 844.92,858.49 848.02,858.66 846.62,861.43 849.72,861.61 848.32,864.38 851.42,864.55" fill="none" stroke="#000" stroke-width="1.0" stroke-linejoin="round"/>
<text x="800.30" y="856.70" font-size="15.5" font-weight="700" text-anchor="middle">N</text>
</g>
<g id="chart" filter="url(#soft)">
<clipPath id="plotclip"><rect x="1138.8" y="288.3" width="545.0" height="544.0"/></clipPath>
<g clip-path="url(#plotclip)" fill="none" stroke-linejoin="round" stroke-linecap="round">
<polyline points="1139.0,421.0 1141.0,419.9 1142.2,419.9 1144.3,420.0 1145.4,418.5 1148.2,418.5 1149.5,417.3 1150.5,417.6 1151.6,417.1 1153.9,415.0 1154.1,415.1 1156.7,414.4 1157.6,414.2 1159.1,414.1 1161.4,414.6 1162.8,414.2 1164.3,414.0 1165.9,412.7 1168.1,412.7 1169.3,411.8 1171.7,412.8 1172.4,412.4 1175.3,413.0 1177.0,412.1 1178.2,411.8 1178.9,410.9 1181.2,410.7 1182.1,410.0 1183.2,409.6 1185.9,410.2 1186.8,411.0 1189.5,411.7 1190.5,411.8 1192.3,412.6 1193.9,412.4 1195.5,412.3 1196.5,413.7 1199.4,414.0 1200.3,414.1 1202.2,416.0 1204.3,416.2 1206.0,416.3 1207.0,417.6 1208.7,416.7 1209.7,416.2 1212.1,414.5 1213.3,414.3 1214.4,413.2 1215.4,411.7 1216.1,410.2 1216.5,409.4 1218.2,407.1 1219.1,406.4 1219.8,405.4 1221.9,404.8 1223.5,404.6 1224.1,404.7 1225.4,406.4 1227.3,408.4 1228.7,409.6 1229.4,409.7 1231.7,408.3 1232.6,407.8 1235.4,407.8 1236.1,408.1 1238.0,407.4 1239.3,408.3 1240.7,408.3 1242.8,409.1 1243.8,409.9 1244.9,410.9 1247.0,411.6 1247.9,412.8 1249.6,411.0 1250.8,410.3 1251.0,407.4 1252.7,407.1 1254.0,406.4 1256.3,405.6 1257.3,405.7 1259.8,404.7 1260.7,404.7 1262.5,404.5 1264.0,404.8 1265.2,404.7 1268.1,406.1 1268.7,406.7 1270.3,407.2 1272.5,406.6 1273.4,405.9 1275.8,405.5 1277.3,406.2 1278.6,404.5 1280.6,404.9 1281.9,403.7 1283.1,402.9 1284.5,402.8 1286.4,401.5 1287.6,401.6 1289.4,400.9 1290.9,400.9 1293.6,399.0 1294.4,398.7 1297.2,398.8 1298.0,397.6 1300.2,398.3 1302.4,397.8 1304.1,398.3 1305.3,398.4 1306.4,397.5 1307.6,395.8 1310.2,394.9 1311.4,394.5 1312.9,393.5 1314.0,393.1 1316.4,393.5 1318.3,393.7 1319.0,392.6 1320.1,391.2 1321.2,391.4 1323.4,390.2 1324.0,388.7 1325.8,387.2 1326.7,385.9 1327.2,385.1 1329.8,384.7 1331.2,384.0 1331.7,383.9 1333.8,382.3 1335.0,381.9 1335.6,382.4 1336.9,380.8 1339.6,380.5 1339.7,379.4 1341.3,379.5 1342.5,378.8 1344.2,377.8 1346.0,375.9 1346.2,375.0 1347.0,373.9 1348.0,371.7 1350.4,370.8 1350.9,369.7 1351.5,368.0 1353.3,368.3 1354.9,366.0 1355.2,365.9 1357.7,365.1 1358.7,364.4 1359.5,363.0 1360.4,361.5 1361.0,360.4 1363.2,359.3 1363.6,358.2 1364.9,356.4 1364.9,354.8 1365.8,354.1 1367.5,352.0 1367.6,351.0 1368.9,349.7 1369.3,347.5 1370.3,346.2 1371.6,344.8 1371.8,344.3 1373.0,343.2 1374.0,342.1 1374.5,340.1 1376.1,338.0 1377.0,336.8 1377.5,336.6 1378.3,334.3 1378.2,333.3 1380.4,331.8 1381.5,330.4 1382.8,329.1 1383.2,329.2 1385.1,328.0 1386.4,326.5 1387.2,324.6 1387.8,323.4 1389.2,323.0 1389.6,320.9 1391.6,320.7 1392.0,319.2 1393.5,317.8 1393.9,316.5 1394.7,314.8 1396.3,314.2 1397.2,312.5 1397.9,311.4 1398.6,310.4 1400.6,309.5 1401.0,308.5 1401.9,306.4 1403.3,305.9 1404.4,304.6 1405.4,303.9 1405.7,302.5 1407.1,300.6 1407.9,299.6 1409.5,298.9 1409.7,297.7 1410.9,296.7 1413.1,297.9 1414.4,298.1 1417.1,298.0 1418.2,299.2 1419.1,299.5 1421.0,299.9 1422.6,301.0 1424.3,301.4 1424.5,301.7 1425.9,302.8 1428.1,302.9 1429.4,304.7 1430.4,305.3 1431.5,306.6 1432.5,307.9 1434.7,308.5 1435.0,310.0 1437.0,310.1 1437.7,312.3 1438.5,313.4 1439.2,314.9 1440.9,315.4 1441.7,316.6 1441.8,317.5 1442.8,319.4 1445.0,319.4 1445.5,321.0 1445.8,322.1 1447.0,324.2 1447.5,324.7 1448.9,325.8 1449.9,328.1 1451.0,329.1 1451.0,331.2 1451.8,332.8 1452.6,334.5 1454.1,336.0 1455.2,336.9 1455.5,338.8 1456.9,339.7 1457.4,340.4 1458.0,342.3 1459.0,343.3 1460.6,344.7 1462.0,345.8 1462.1,346.4 1463.8,347.3 1464.8,348.6 1465.9,349.3 1466.8,351.1 1467.5,352.2 1469.1,353.7 1469.8,355.2 1470.5,356.0 1470.8,357.5 1472.5,359.7 1473.9,360.6 1475.2,361.7 1476.1,362.8 1477.2,364.8 1477.8,364.8 1479.5,366.5 1480.4,367.0 1481.6,368.8 1482.8,370.6 1484.2,371.6 1485.9,372.8 1486.5,374.0 1487.9,375.0 1489.0,375.7 1490.1,377.0 1491.7,378.1 1492.7,379.1 1493.9,379.8 1494.6,380.4 1496.3,382.2 1497.4,382.1 1499.1,383.6 1500.0,384.0 1501.5,386.0 1502.8,386.5 1504.5,387.1 1505.5,389.4 1506.9,389.8 1508.2,391.2 1508.7,391.7 1510.9,392.9 1510.9,394.7 1512.7,394.8 1513.7,396.0 1515.1,396.4 1517.6,396.6 1518.6,396.1 1520.5,395.7 1521.8,395.8 1524.4,394.8 1525.2,395.4 1527.5,394.9 1528.2,394.8 1530.5,393.9 1531.7,394.9 1533.6,394.7 1534.7,395.4 1536.5,396.5 1538.0,397.6 1539.0,397.5 1540.4,397.8 1541.5,399.1 1543.5,399.7 1544.9,400.2 1547.2,400.1 1548.0,400.7 1550.1,400.7 1551.3,401.0 1553.5,402.6 1554.5,401.9 1556.7,403.6 1558.4,404.2 1558.8,405.6 1559.7,406.6 1560.8,407.3 1562.5,408.3 1563.0,408.7 1565.6,409.6 1566.8,409.1 1568.5,408.9 1569.7,409.2 1571.8,407.2 1573.0,407.6 1573.9,406.6 1575.7,407.6 1576.9,408.3 1578.9,408.1 1580.6,408.4 1581.3,409.7 1583.0,409.5 1584.9,409.8 1587.6,410.4 1588.1,408.9 1590.7,408.4 1591.3,408.0 1592.5,407.8 1594.7,409.1 1596.1,410.0 1597.5,410.1 1599.2,411.4 1600.6,410.6 1601.2,411.6 1603.5,410.7 1605.2,411.0 1606.8,410.2 1608.3,410.7 1609.7,411.3 1611.7,410.9 1614.0,410.9 1615.8,410.8 1616.9,411.1 1618.4,411.1 1620.8,411.3 1621.5,410.9 1624.0,412.4 1624.7,414.2 1625.5,414.5 1627.4,414.5 1628.9,415.5 1631.2,414.2 1632.1,413.8 1633.8,413.3 1634.0,412.5 1636.1,411.1 1636.4,411.2 1638.4,411.9 1638.9,412.5 1640.0,414.1 1641.4,414.8 1643.5,416.4 1644.7,415.8 1646.3,416.7 1648.3,417.3 1649.5,417.0 1650.5,416.8 1652.4,415.4 1653.0,414.9 1655.2,413.9 1656.8,413.9 1658.2,413.6 1660.8,412.4 1662.1,412.2 1663.9,412.5 1666.0,412.1 1667.2,412.8 1669.2,412.4 1670.6,413.9 1672.9,414.5 1675.4,415.2 1677.0,415.7 1679.1,416.1 1679.8,416.2 1682.1,417.3 1683.1,416.9" stroke="#0000ff" stroke-width="5.5"/>
<polyline points="1140.1,529.4 1140.1,528.5 1143.1,529.8 1144.9,529.6 1146.7,530.1 1148.5,529.2 1150.0,529.0 1152.2,529.3 1154.3,528.4 1155.4,528.0 1156.6,527.9 1159.0,528.5 1160.6,529.3 1162.6,528.6 1164.1,527.5 1166.0,527.2 1167.9,527.8 1169.7,525.9 1171.3,525.8 1172.5,525.1 1174.2,524.4 1175.2,524.7 1177.7,523.9 1179.1,525.1 1180.4,525.2 1182.1,525.8 1184.0,525.2 1185.5,524.3 1188.0,523.0 1189.3,523.4 1191.0,523.6 1191.8,524.7 1193.9,526.0 1195.6,527.2 1196.9,527.3 1197.8,527.1 1197.9,525.4 1198.7,523.8 1198.9,521.3 1199.8,520.4 1200.6,517.6 1201.5,517.2 1203.1,515.0 1204.3,514.2 1206.0,514.2 1206.9,515.0 1208.3,514.7 1211.1,514.5 1212.0,515.8 1214.0,516.0 1214.8,516.1 1216.4,517.1 1217.6,518.2 1218.9,518.7 1220.3,518.7 1222.8,519.3 1223.5,520.8 1225.4,520.8 1227.9,521.8 1228.2,522.9 1230.6,523.9 1231.3,523.3 1232.6,522.9 1234.9,522.3 1236.3,520.9 1237.4,519.4 1237.9,517.5 1239.2,516.7 1240.1,515.9 1242.6,515.1 1243.8,515.6 1245.0,515.6 1247.0,516.5 1248.0,517.5 1248.7,518.5 1250.3,518.2 1252.0,518.4 1253.9,518.8 1256.3,519.0 1258.5,518.8 1259.7,518.5 1261.7,519.4 1264.0,519.2 1265.0,517.5 1265.5,516.3 1265.7,513.8 1267.0,512.1 1268.2,510.6 1268.0,509.4 1269.9,508.1 1272.2,508.6 1273.1,509.3 1274.3,510.4 1276.8,511.0 1277.6,511.4 1279.4,511.1 1280.8,511.6 1282.2,510.7 1284.8,510.5 1286.1,510.4 1287.7,508.3 1289.1,507.4 1288.6,506.5 1289.4,504.5 1291.2,503.4 1290.8,501.5 1292.0,500.1 1292.4,499.0 1292.9,497.7 1294.9,497.3 1296.0,496.8 1297.8,496.9 1299.5,497.5 1301.5,498.6 1302.1,499.3 1303.6,500.8 1305.8,500.7 1307.4,498.6 1308.9,498.6 1310.4,496.8 1310.7,495.6 1312.1,493.9 1312.5,492.6 1313.8,491.5 1314.6,490.1 1314.5,488.1 1316.2,487.0 1317.7,486.8 1320.0,486.0 1321.2,484.4 1321.5,484.3 1321.9,481.9 1322.6,479.9 1324.8,479.7 1325.7,477.6 1326.7,477.0 1328.8,476.9 1330.0,475.7 1330.8,474.3 1332.7,473.5 1332.1,471.8 1333.5,470.0 1334.3,468.7 1334.6,467.1 1335.5,466.0 1335.5,463.5 1336.0,461.8 1337.0,461.6 1337.1,459.8 1338.4,458.3 1339.5,457.7 1340.4,455.7 1341.6,454.1 1342.1,453.3 1342.9,452.3 1342.8,450.8 1343.9,449.4 1345.4,448.0 1344.7,446.5 1346.4,445.8 1346.9,444.5 1346.6,443.3 1348.3,441.3 1349.1,440.3 1348.4,438.8 1349.9,436.4 1350.4,435.4 1350.1,434.2 1350.5,432.4 1351.5,430.4 1352.2,429.3 1352.3,428.7 1353.0,425.8 1354.6,425.6 1355.8,424.2 1356.6,422.9 1357.4,421.0 1358.6,419.1 1358.8,418.8 1359.7,417.4 1361.4,415.5 1362.1,414.5 1363.1,412.0 1362.9,410.8 1363.9,409.2 1363.9,408.0 1365.7,406.3 1365.4,404.9 1365.5,404.1 1365.5,402.4 1366.0,400.8 1366.8,398.6 1367.0,397.4 1367.1,396.5 1367.6,394.4 1368.3,392.4 1368.5,391.2 1368.9,390.2 1369.8,388.2 1369.7,386.0 1370.5,384.4 1370.8,383.9 1371.1,382.3 1372.2,380.1 1372.8,378.3 1373.6,377.1 1374.3,376.1 1375.6,375.7 1375.6,374.0 1377.0,372.2 1376.4,370.7 1377.2,370.0 1378.0,368.1 1379.2,366.5 1379.8,365.6 1379.8,364.4 1380.3,362.8 1381.7,360.6 1381.8,359.9 1382.3,358.2 1383.0,357.0 1383.2,355.5 1383.0,353.5 1384.0,351.6 1384.0,349.7 1385.2,348.4 1385.0,347.6 1385.0,346.1 1385.4,343.3 1386.1,342.3 1387.3,341.5 1387.5,339.3 1387.6,337.5 1388.4,336.1 1388.1,335.0 1388.3,333.0 1389.8,331.2 1389.2,329.8 1389.8,328.7 1390.3,327.2 1390.8,325.5 1391.9,324.1 1392.1,323.2 1392.3,320.9 1394.0,319.8 1394.5,318.0 1394.8,317.6 1395.1,316.1 1396.1,314.3 1397.2,313.0 1397.2,311.8 1397.8,310.6 1398.9,308.8 1399.5,307.9 1400.9,306.4 1400.9,304.6 1401.7,302.9 1401.9,303.2 1403.2,301.7 1405.2,300.4 1405.7,298.5 1408.0,297.3 1408.5,297.3 1410.3,296.8 1412.8,296.8 1415.1,297.9 1415.5,298.8 1417.4,298.9 1419.0,299.2 1420.0,300.1 1420.6,302.4 1422.4,303.2 1423.1,305.1 1423.2,306.1 1423.8,306.8 1424.4,308.2 1424.8,309.7 1425.8,311.7 1427.0,313.7 1427.4,314.7 1428.3,315.8 1427.9,318.4 1429.2,318.8 1429.6,320.3 1430.4,321.8 1431.1,323.7 1432.4,324.8 1432.7,325.9 1433.9,328.3 1433.9,329.4 1435.2,330.8 1434.9,332.2 1435.6,333.1 1436.7,335.3 1437.2,336.9 1437.7,338.1 1437.2,340.2 1438.7,341.8 1438.8,342.3 1438.6,343.9 1439.6,346.0 1439.4,348.0 1440.9,349.3 1440.8,350.1 1441.0,352.3 1442.3,353.0 1443.1,354.7 1443.0,355.9 1444.1,357.3 1444.6,358.4 1445.3,360.2 1446.1,361.5 1445.8,363.4 1446.4,364.8 1447.7,365.9 1448.1,368.2 1448.7,369.4 1448.8,370.9 1449.3,372.3 1449.5,374.2 1450.0,375.7 1451.0,376.9 1451.1,379.0 1452.6,380.2 1452.7,382.5 1453.6,384.3 1453.3,385.2 1454.5,387.0 1453.9,389.2 1454.7,389.8 1455.4,391.0 1456.9,392.7 1457.5,394.1 1459.1,394.7 1459.8,395.8 1460.2,397.5 1461.4,397.9 1462.8,400.4 1463.8,401.1 1465.0,403.0 1465.0,403.6 1467.0,406.2 1466.4,407.1 1467.8,408.3 1468.0,409.6 1467.8,410.6 1468.0,412.8 1468.5,414.3 1469.3,415.7 1470.6,417.3 1470.3,418.8 1470.3,420.1 1471.1,422.6 1470.9,424.5 1472.1,424.9 1472.6,427.0 1472.7,428.2 1473.1,430.3 1473.8,431.7 1474.3,433.8 1474.2,434.6 1475.0,436.3 1475.1,438.1 1476.3,439.9 1477.2,441.7 1477.3,442.5 1478.2,443.9 1479.7,444.3 1480.6,446.2 1481.9,447.7 1482.7,448.0 1484.5,449.5 1484.4,450.9 1485.8,452.3 1487.2,453.2 1488.5,454.0 1489.5,454.7 1489.4,457.0 1489.6,458.2 1491.7,459.6 1492.2,460.2 1492.4,462.4 1492.9,463.4 1494.0,464.3 1493.7,466.5 1495.7,468.3 1495.9,469.0 1496.9,470.0 1496.8,472.3 1498.5,473.1 1499.4,473.9 1499.9,475.1 1500.4,476.4 1501.2,477.7 1503.2,478.4 1504.9,478.7 1506.2,479.9 1507.5,481.1 1508.5,481.3 1510.0,482.3 1511.6,483.9 1511.8,485.0 1512.6,486.9 1514.1,487.5 1514.9,488.2 1516.8,488.2 1518.5,489.1 1521.5,489.9 1522.0,490.4 1522.8,492.1 1523.6,493.3 1524.2,495.6 1526.2,497.2 1526.7,497.4 1527.2,499.9 1529.2,500.9 1529.7,502.5 1530.2,504.0 1531.3,505.6 1532.3,506.8 1533.2,508.3 1533.9,510.5 1535.1,511.3 1535.5,513.2 1536.6,513.6 1538.5,512.9 1539.5,512.5 1540.9,511.7 1542.8,509.6 1543.4,508.6 1544.7,506.6 1546.1,506.1 1546.3,506.8 1548.3,507.2 1549.3,509.1 1550.9,509.5 1552.2,511.1 1552.4,512.4 1553.7,514.2 1554.3,515.4 1554.7,516.1 1555.5,517.6 1557.0,519.1 1557.7,521.2 1558.2,522.8 1559.6,522.8 1561.3,523.4 1562.8,522.7 1562.8,520.5 1564.0,519.3 1566.1,517.1 1566.8,516.9 1568.8,517.8 1569.9,518.3 1570.7,519.0 1571.9,520.2 1572.7,522.1 1574.5,522.8 1575.9,522.9 1577.4,523.9 1578.5,524.5 1581.0,523.4 1581.4,523.8 1583.5,522.5 1584.9,522.5 1586.7,523.5 1587.6,523.8 1589.0,525.3 1590.4,525.7 1591.5,526.7 1594.1,526.3 1595.1,524.9 1595.9,522.7 1598.1,521.4 1599.2,522.1 1601.4,521.3 1603.6,522.1 1604.6,521.6 1606.4,520.4 1608.2,519.1 1610.3,519.3 1611.3,521.2 1612.0,522.7 1612.7,523.2 1614.5,524.6 1616.0,526.4 1617.6,527.4 1618.0,529.1 1619.9,528.7 1621.1,528.5 1623.0,527.1 1623.8,526.4 1626.4,525.2 1627.1,525.4 1629.4,525.6 1631.2,526.0 1632.3,526.6 1633.9,525.9 1635.8,527.2 1638.1,527.8 1640.6,528.2 1641.8,527.4 1644.1,527.4 1644.9,526.3 1646.4,524.8 1649.0,525.5 1650.8,526.0 1651.3,527.0 1653.9,528.0 1654.7,528.5 1655.6,529.9 1658.3,530.3 1659.6,532.3 1660.4,532.8 1661.6,532.0 1663.6,532.2 1665.0,530.6 1667.1,531.2 1668.3,531.4 1669.1,532.2 1670.4,533.9 1672.2,535.2 1674.1,535.2 1675.9,535.4 1676.6,534.0 1678.9,533.6 1678.9,532.6 1680.9,530.6 1682.7,528.5 1683.1,527.6" stroke="#ff0000" stroke-width="5.5"/>
<polyline points="1139.1,756.7 1140.8,757.2 1143.2,754.9 1142.7,754.9 1143.4,752.8 1144.8,751.6 1145.0,749.9 1145.1,747.6 1145.4,746.8 1145.6,744.9 1146.2,742.2 1146.6,741.5 1146.3,739.4 1147.7,737.5 1148.1,736.1 1148.6,734.6 1148.8,733.4 1150.6,732.5 1153.0,732.4 1152.6,733.6 1154.3,735.4 1154.5,737.0 1154.9,738.9 1155.3,741.0 1156.2,743.0 1157.0,744.6 1158.0,746.1 1158.4,746.3 1159.4,748.7 1160.2,749.6 1160.5,750.5 1161.2,752.6 1160.9,753.5 1162.3,756.3 1161.9,757.3 1163.0,757.3 1164.7,758.8 1167.6,757.5 1169.3,757.2 1171.1,757.7 1172.9,758.8 1173.8,758.5 1174.9,756.5 1176.5,755.4 1177.0,754.2 1178.0,752.5 1177.6,751.8 1178.3,750.1 1179.5,747.5 1179.2,746.1 1180.0,744.9 1180.9,743.1 1182.7,741.9 1183.2,742.3 1183.6,742.6 1185.4,744.5 1185.5,745.7 1186.0,748.3 1186.2,749.7 1188.4,750.6 1189.9,752.3 1191.4,752.2 1192.2,752.0 1192.1,749.8 1193.8,749.5 1194.0,747.2 1195.3,745.7 1196.1,744.5 1197.3,743.8 1198.4,742.5 1200.3,741.3 1201.6,741.5 1202.9,740.4 1205.1,740.9 1205.0,742.2 1206.4,743.3 1206.6,745.4 1208.0,747.1 1208.7,747.9 1209.7,749.7 1212.3,749.0 1212.5,747.5 1214.2,746.1 1215.8,745.3 1216.0,743.3 1218.7,742.5 1220.5,741.7 1221.0,742.3 1223.6,743.5 1224.6,744.7 1226.3,745.5 1228.6,745.8 1228.8,746.6 1230.8,745.8 1230.9,744.3 1232.3,741.6 1232.7,740.8 1233.3,738.9 1233.6,737.1 1234.4,735.3 1235.8,734.2 1237.1,732.3 1238.1,731.8 1239.0,730.4 1240.0,728.3 1239.7,727.2 1240.9,725.6 1243.2,725.3 1244.4,726.1 1246.3,725.6 1247.4,727.1 1249.3,727.9 1250.6,726.6 1251.4,726.5 1251.4,725.0 1253.0,723.2 1253.3,720.2 1253.5,719.6 1253.2,717.2 1254.1,716.4 1255.8,714.9 1258.0,713.9 1258.5,714.7 1259.4,715.6 1261.3,718.3 1260.7,719.7 1261.7,721.0 1262.5,722.5 1264.6,722.5 1265.8,720.9 1266.3,720.0 1267.7,718.2 1267.4,716.0 1268.4,714.8 1269.6,713.0 1270.2,712.3 1271.5,711.2 1273.3,713.1 1273.8,714.1 1274.4,714.9 1275.1,717.2 1275.0,718.5 1276.1,720.6 1277.5,720.9 1278.9,722.8 1279.7,722.9 1281.1,722.7 1282.5,722.0 1283.4,720.5 1284.1,718.9 1283.9,717.3 1284.4,715.1 1286.1,713.4 1285.8,712.3 1287.8,710.6 1287.4,709.9 1288.4,708.5 1290.2,707.4 1291.9,706.2 1293.2,704.8 1294.8,705.1 1296.2,704.0 1297.9,704.3 1298.4,702.7 1300.7,702.6 1301.9,701.3 1303.6,701.4 1305.7,699.6 1305.6,698.6 1305.9,697.4 1305.8,696.0 1307.3,694.3 1307.3,692.3 1307.4,691.5 1307.7,689.5 1307.7,688.1 1308.5,686.0 1307.7,685.4 1309.2,683.6 1308.8,682.5 1308.7,680.4 1309.1,679.3 1309.5,677.3 1310.3,676.7 1310.0,674.9 1310.4,673.5 1310.9,671.1 1310.7,669.1 1311.3,667.9 1311.1,666.2 1311.6,665.2 1311.6,664.0 1312.4,662.0 1312.8,660.6 1313.7,658.4 1313.7,657.0 1314.7,655.0 1315.1,654.3 1315.3,652.0 1315.6,651.5 1317.6,650.6 1319.4,649.0 1320.1,648.5 1321.5,647.9 1323.1,647.0 1322.9,645.5 1323.5,643.3 1324.6,641.2 1324.3,640.4 1325.2,638.0 1326.1,637.1 1325.9,635.2 1327.1,634.0 1327.4,632.7 1329.1,630.9 1329.1,629.0 1329.3,628.2 1329.7,626.9 1331.2,624.3 1331.7,623.2 1331.8,622.1 1331.5,620.4 1332.4,619.0 1332.2,617.3 1333.6,615.6 1333.4,613.2 1333.7,611.9 1334.5,610.8 1334.8,608.4 1335.5,607.3 1335.4,606.0 1336.6,603.2 1337.6,601.6 1337.3,600.9 1338.2,599.3 1338.7,597.8 1339.0,595.6 1339.3,594.9 1340.9,593.4 1341.5,591.9 1341.7,590.6 1343.5,589.1 1344.0,588.3 1345.5,587.5 1345.9,586.5 1347.2,585.7 1347.8,584.2 1347.9,582.1 1348.2,580.4 1349.4,579.6 1348.9,577.2 1349.4,576.2 1350.2,574.5 1350.1,572.0 1350.0,570.5 1350.4,569.6 1350.3,567.3 1351.4,565.2 1351.8,564.9 1352.3,562.7 1351.9,561.5 1352.2,560.7 1352.2,558.3 1352.3,557.4 1351.7,556.5 1350.7,555.1 1351.8,552.5 1351.7,551.2 1351.4,550.0 1351.3,548.5 1352.4,546.8 1352.5,545.9 1353.3,543.0 1353.4,542.0 1352.7,539.9 1353.2,537.8 1354.0,537.3 1354.0,535.6 1354.9,533.0 1355.5,532.1 1356.0,530.7 1356.2,528.7 1356.7,528.1 1357.3,526.0 1357.6,524.6 1357.2,522.6 1357.7,521.3 1358.3,520.2 1359.6,518.7 1359.7,517.1 1360.0,515.5 1361.0,514.0 1360.6,513.1 1361.8,510.9 1361.8,509.5 1362.6,507.5 1362.2,505.9 1363.7,504.2 1363.7,502.6 1363.8,501.0 1364.5,499.5 1364.4,497.9 1364.9,497.0 1365.1,494.9 1366.1,493.8 1366.8,491.7 1366.8,490.7 1366.6,490.0 1367.2,487.3 1367.9,486.0 1368.4,484.8 1368.0,483.0 1369.1,481.8 1369.4,480.5 1369.9,478.7 1369.2,477.2 1370.2,476.2 1369.7,473.8 1370.4,473.4 1370.4,470.5 1369.8,469.0 1370.2,467.3 1370.2,466.5 1371.6,464.3 1371.9,463.1 1371.9,462.2 1372.3,459.4 1371.7,458.6 1372.9,456.4 1372.3,456.1 1372.4,454.0 1373.0,453.0 1374.2,450.9 1374.2,450.3 1374.7,448.5 1375.2,446.7 1374.8,444.9 1375.6,443.5 1375.1,441.6 1376.0,440.8 1376.2,439.0 1376.1,437.1 1376.6,435.4 1376.5,434.8 1377.0,432.2 1376.5,431.6 1377.3,430.0 1377.8,427.7 1378.1,426.4 1377.5,424.3 1377.3,422.7 1378.7,420.8 1378.4,419.2 1377.9,418.4 1378.3,415.9 1378.4,415.2 1379.2,412.7 1378.9,412.5 1379.1,410.3 1379.6,409.1 1380.0,407.6 1380.1,405.2 1379.8,403.6 1380.9,402.1 1380.0,401.9 1380.5,400.4 1380.6,398.4 1381.0,397.2 1381.9,395.4 1382.4,394.1 1382.1,392.2 1382.5,390.1 1383.4,389.3 1383.6,387.3 1383.6,386.2 1384.2,384.2 1384.1,383.3 1384.1,382.0 1385.5,380.3 1385.9,379.1 1385.8,377.3 1387.5,375.9 1387.3,374.2 1387.6,372.8 1389.1,372.2 1389.6,371.0 1389.8,369.3 1390.2,367.0 1391.2,365.9 1391.6,363.9 1391.6,362.3 1392.2,361.5 1391.4,360.0 1391.5,357.2 1392.5,355.8 1392.5,354.6 1392.0,353.1 1392.6,351.0 1392.9,349.7 1393.6,347.5 1392.9,345.9 1393.6,344.0 1393.5,343.4 1394.5,342.3 1395.1,340.4 1394.6,337.7 1394.8,336.4 1395.4,334.9 1395.4,333.7 1395.6,331.6 1396.7,330.6 1396.2,328.3 1397.2,326.4 1396.6,325.7 1397.4,323.7 1397.1,322.2 1398.5,321.0 1399.2,319.8 1399.6,317.1 1398.8,315.4 1399.6,314.3 1399.5,313.0 1400.0,311.2 1400.7,310.4 1401.4,308.2 1401.3,307.2 1402.6,306.3 1403.9,304.7 1404.0,302.2 1405.8,301.6 1406.6,300.4 1407.6,298.5 1408.0,297.2 1409.3,297.6 1410.5,296.5 1411.2,297.9 1412.7,298.4 1413.6,299.5 1414.8,300.5 1416.8,303.2 1417.4,303.5 1417.9,304.7 1419.3,305.9 1420.3,306.8 1420.1,308.7 1421.0,310.6 1422.3,312.2 1422.7,312.5 1423.2,314.6 1423.6,315.7 1424.5,318.0 1424.2,319.2 1425.1,320.6 1426.4,322.8 1426.5,323.4 1427.4,325.1 1427.1,327.8 1427.3,328.5 1428.5,330.8 1427.9,331.5 1428.2,332.7 1428.4,335.4 1428.4,335.9 1428.9,337.3 1429.6,339.8 1430.3,341.3 1430.6,342.2 1430.2,345.2 1430.2,346.0 1431.0,347.4 1431.4,348.5 1431.2,351.2 1431.4,352.6 1431.7,354.2 1432.7,355.3 1432.3,356.0 1433.5,357.7 1433.0,360.2 1434.2,360.7 1434.7,362.9 1434.2,363.8 1434.5,366.5 1434.6,366.7 1434.7,368.2 1435.3,370.6 1435.3,371.2 1436.9,373.9 1437.3,374.4 1436.8,376.9 1437.4,378.1 1437.5,378.6 1438.0,381.0 1438.9,382.2 1438.9,383.5 1439.2,384.9 1440.1,385.8 1440.1,388.2 1440.8,388.5 1441.3,391.1 1440.5,391.8 1440.9,393.0 1442.3,395.0 1442.5,396.0 1441.6,398.5 1443.0,400.2 1443.2,401.0 1443.6,401.9 1443.6,403.9 1443.3,405.7 1443.9,407.1 1444.2,408.3 1444.5,410.2 1445.7,412.2 1445.8,413.7 1445.3,415.4 1445.6,415.8 1446.2,418.3 1446.3,419.8 1446.5,421.9 1447.0,422.8 1447.4,425.1 1448.3,426.0 1447.8,427.6 1447.6,428.9 1448.9,430.9 1448.1,432.6 1448.8,434.3 1449.0,434.8 1449.5,437.3 1449.6,438.8 1450.3,439.7 1449.9,441.4 1450.3,442.7 1450.9,444.9 1451.1,445.4 1450.8,447.3 1451.6,448.6 1451.2,450.5 1451.7,451.7 1452.3,454.5 1452.6,455.8 1453.2,457.5 1453.6,458.5 1453.5,459.6 1454.1,461.5 1453.7,463.8 1453.7,464.4 1454.7,466.5 1453.9,467.3 1454.5,468.9 1455.4,470.7 1454.9,472.5 1455.4,474.2 1455.8,476.1 1455.8,476.9 1456.8,479.3 1455.8,480.5 1457.0,482.9 1456.3,483.1 1457.1,485.2 1458.0,487.4 1457.5,488.4 1458.2,490.7 1457.9,491.6 1458.1,493.6 1458.3,495.6 1459.3,496.7 1459.0,497.8 1459.8,500.2 1460.2,500.9 1461.1,502.9 1460.7,503.9 1460.6,506.4 1460.6,507.4 1461.5,508.6 1461.9,510.9 1462.2,512.1 1461.5,512.6 1462.0,514.4 1461.9,516.7 1462.2,518.2 1463.4,518.8 1463.6,520.7 1462.9,521.9 1462.9,523.9 1463.6,526.0 1464.5,526.5 1464.2,528.6 1464.1,530.1 1464.5,532.3 1464.9,533.1 1465.0,535.1 1465.7,536.4 1466.1,537.9 1466.4,540.0 1466.0,541.9 1466.5,543.2 1467.1,544.9 1467.2,545.7 1467.9,548.4 1467.8,549.5 1467.7,551.4 1468.5,551.9 1468.9,554.3 1468.5,555.5 1469.0,556.5 1469.6,558.5 1469.9,560.5 1469.3,561.9 1470.6,563.3 1470.4,565.2 1470.7,566.6 1471.3,568.8 1471.3,569.4 1472.6,571.9 1472.5,573.8 1474.0,574.8 1474.8,576.8 1475.1,577.6 1474.7,579.8 1476.1,581.1 1476.0,583.0 1475.9,585.0 1476.4,586.4 1475.8,588.5 1476.2,590.5 1476.2,591.6 1476.6,593.0 1477.9,594.1 1478.2,595.6 1479.6,596.5 1480.6,597.0 1481.8,599.7 1482.5,600.4 1481.8,601.3 1481.6,603.3 1482.4,604.7 1482.2,607.0 1481.4,608.5 1482.2,610.1 1481.8,612.1 1481.7,613.3 1483.3,615.7 1483.5,617.4 1483.3,618.7 1484.9,619.5 1485.2,622.0 1485.7,623.1 1486.0,624.2 1487.0,625.6 1487.9,627.4 1489.1,628.1 1489.7,629.3 1490.5,630.7 1490.4,632.5 1490.6,633.2 1490.5,635.5 1490.9,637.3 1491.6,639.2 1492.3,640.4 1491.9,640.9 1492.5,643.3 1493.4,644.5 1492.8,647.6 1494.0,648.7 1494.5,649.7 1494.8,651.5 1496.3,651.0 1497.3,650.8 1500.0,649.5 1500.5,649.3 1503.2,649.9 1504.2,651.9 1504.9,651.9 1505.4,652.9 1505.1,655.5 1505.3,656.2 1506.0,658.4 1507.0,659.8 1507.0,661.7 1507.4,663.4 1507.6,664.8 1507.3,666.5 1508.4,667.8 1508.1,669.5 1508.4,671.1 1509.6,672.8 1510.2,674.0 1510.0,675.2 1511.1,677.1 1512.1,678.8 1513.0,680.7 1513.5,682.3 1513.8,683.1 1514.1,684.6 1515.2,686.9 1514.7,688.7 1516.2,689.3 1517.5,688.9 1520.3,688.8 1521.4,689.8 1522.7,689.8 1523.9,690.4 1525.0,691.9 1524.2,693.4 1524.6,695.4 1526.3,697.3 1525.6,698.6 1526.5,699.7 1527.1,700.9 1527.5,702.7 1528.2,704.5 1528.8,705.9 1529.8,706.0 1531.2,708.0 1531.9,709.3 1532.4,710.3 1533.1,712.5 1534.1,713.5 1533.4,716.0 1535.1,717.2 1535.3,718.8 1535.5,720.7 1536.2,721.9 1536.3,724.5 1537.1,725.8 1538.1,726.9 1539.9,728.5 1541.6,729.3 1541.8,730.2 1542.7,731.4 1544.2,733.2 1544.3,734.2 1544.6,735.7 1545.6,737.3 1546.7,739.1 1546.7,740.0 1547.6,741.4 1550.1,741.5 1551.6,741.7 1552.4,741.6 1553.9,741.6 1556.1,740.9 1556.8,740.0 1558.7,738.7 1560.4,738.3 1561.5,738.0 1563.7,738.0 1565.6,736.2 1567.2,735.9 1568.5,735.5 1569.3,735.5 1571.9,735.5 1573.1,738.3 1573.3,739.3 1574.9,740.1 1574.5,741.3 1576.1,743.2 1576.1,744.7 1577.6,745.8 1577.0,747.8 1579.0,748.3 1581.4,748.6 1581.9,749.6 1584.0,748.5 1587.0,748.0 1588.9,748.1 1589.7,748.7 1591.5,750.3 1593.0,751.9 1593.7,753.6 1595.6,755.0 1596.4,755.6 1596.7,757.4 1597.5,759.9 1599.6,760.8 1601.2,760.8 1603.0,761.0 1605.5,760.6 1605.5,760.4 1606.1,758.7 1606.8,756.4 1607.2,754.9 1608.4,752.9 1610.2,752.3 1611.3,751.4 1613.3,751.2 1615.3,751.7 1615.8,751.9 1617.4,752.8 1619.0,753.9 1619.6,755.0 1620.8,757.0 1621.8,758.4 1622.9,758.8 1623.4,760.7 1625.3,760.8 1626.9,761.7 1628.2,761.1 1629.6,760.7 1631.9,761.6 1633.8,761.8 1635.7,762.2 1636.8,762.1 1638.2,761.4 1639.8,760.7 1641.3,759.6 1643.4,761.4 1645.4,762.7 1647.1,763.1 1647.2,764.6 1648.5,766.8 1649.4,768.9 1650.7,769.9 1652.0,770.9 1652.5,772.0 1654.1,770.8 1656.3,770.2 1657.2,768.3 1657.8,767.8 1658.8,766.6 1661.4,766.1 1662.6,767.3 1664.0,768.0 1665.6,767.3 1666.9,768.1 1670.1,767.5 1671.4,768.0 1672.8,769.5 1673.2,771.2 1673.5,772.9 1675.4,774.7 1675.7,775.2 1676.9,777.3 1678.9,777.7 1680.7,779.2 1681.9,779.5 1683.1,780.3" stroke="#000" stroke-width="5.1"/>
</g>
<line x1="1410.1" y1="294.47" x2="1410.1" y2="832.3" stroke="#000" stroke-width="2.7" stroke-dasharray="2.9 2.84"/>
<rect x="1138.8" y="292.3" width="545.0" height="540.0" fill="none" stroke="#000" stroke-width="2.6"/>
<line x1="1130.3" y1="296.1" x2="1138.8" y2="296.1" stroke="#000" stroke-width="2.6"/>
<text x="1110.10" y="305.00" font-size="25.9" fill="#0d0d0d" stroke="#0d0d0d" stroke-width="0.2" stroke-linejoin="round">0</text>
<line x1="1130.3" y1="381.9" x2="1138.8" y2="381.9" stroke="#000" stroke-width="2.6"/>
<text x="1101.10" y="390.80" font-size="25.9" fill="#0d0d0d" stroke="#0d0d0d" stroke-width="0.2" stroke-linejoin="round">-2</text>
<line x1="1130.3" y1="467.7" x2="1138.8" y2="467.7" stroke="#000" stroke-width="2.6"/>
<text x="1101.10" y="476.60" font-size="25.9" fill="#0d0d0d" stroke="#0d0d0d" stroke-width="0.2" stroke-linejoin="round">-4</text>
<line x1="1130.3" y1="553.5" x2="1138.8" y2="553.5" stroke="#000" stroke-width="2.6"/>
<text x="1101.10" y="562.40" font-size="25.9" fill="#0d0d0d" stroke="#0d0d0d" stroke-width="0.2" stroke-linejoin="round">-6</text>
<line x1="1130.3" y1="639.3" x2="1138.8" y2="639.3" stroke="#000" stroke-width="2.6"/>
<text x="1101.10" y="648.20" font-size="25.9" fill="#0d0d0d" stroke="#0d0d0d" stroke-width="0.2" stroke-linejoin="round">-8</text>
<line x1="1130.3" y1="725.1" x2="1138.8" y2="725.1" stroke="#000" stroke-width="2.6"/>
<text x="1087.10" y="734.00" font-size="25.9" fill="#0d0d0d" stroke="#0d0d0d" stroke-width="0.2" stroke-linejoin="round">-10</text>
<line x1="1130.3" y1="810.9" x2="1138.8" y2="810.9" stroke="#000" stroke-width="2.6"/>
<text x="1087.10" y="819.80" font-size="25.9" fill="#0d0d0d" stroke="#0d0d0d" stroke-width="0.2" stroke-linejoin="round">-12</text>
<line x1="1184.0" y1="832.3" x2="1184.0" y2="841.3" stroke="#000" stroke-width="2.6"/>
<text x="1160.98" y="868.00" font-size="25.9" textLength="45.35" lengthAdjust="spacingAndGlyphs" fill="#0d0d0d" stroke="#0d0d0d" stroke-width="0.2" stroke-linejoin="round">-5.0</text>
<line x1="1297.5" y1="832.3" x2="1297.5" y2="841.3" stroke="#000" stroke-width="2.6"/>
<text x="1274.87" y="868.00" font-size="25.9" textLength="46.11" lengthAdjust="spacingAndGlyphs" fill="#0d0d0d" stroke="#0d0d0d" stroke-width="0.2" stroke-linejoin="round">-2.5</text>
<line x1="1411.1" y1="832.3" x2="1411.1" y2="841.3" stroke="#000" stroke-width="2.6"/>
<text x="1393.52" y="868.00" font-size="25.9" textLength="35.15" lengthAdjust="spacingAndGlyphs" fill="#0d0d0d" stroke="#0d0d0d" stroke-width="0.2" stroke-linejoin="round">0.0</text>
<line x1="1524.6" y1="832.3" x2="1524.6" y2="841.3" stroke="#000" stroke-width="2.6"/>
<text x="1506.59" y="868.00" font-size="25.9" textLength="36.53" lengthAdjust="spacingAndGlyphs" fill="#0d0d0d" stroke="#0d0d0d" stroke-width="0.2" stroke-linejoin="round">2.5</text>
<line x1="1638.2" y1="832.3" x2="1638.2" y2="841.3" stroke="#000" stroke-width="2.6"/>
<text x="1620.19" y="868.00" font-size="25.9" textLength="36.32" lengthAdjust="spacingAndGlyphs" fill="#0d0d0d" stroke="#0d0d0d" stroke-width="0.2" stroke-linejoin="round">5.0</text>
<text x="1255.88" y="916.70" font-size="32.3" textLength="294.17" lengthAdjust="spacingAndGlyphs" fill="#0d0d0d" stroke="#0d0d0d" stroke-width="0.3" stroke-linejoin="round">Magnetic Field (mT)</text>
<text x="-627.56" y="0.00" font-size="32.8" textLength="67.65" lengthAdjust="spacingAndGlyphs" fill="#0d0d0d" stroke="#0d0d0d" stroke-width="0.3" stroke-linejoin="round" transform="translate(1071.2 0) rotate(-90)">MPL</text>
<text x="-548.37" y="0.00" font-size="32.8" textLength="51.56" lengthAdjust="spacingAndGlyphs" fill="#0d0d0d" stroke="#0d0d0d" stroke-width="0.3" stroke-linejoin="round" transform="translate(1071.2 0) rotate(-90)">(%)</text>
<text x="1562.31" y="326.90" font-size="30.7" textLength="112.53" lengthAdjust="spacingAndGlyphs" fill="#0d0d0d" stroke="#0d0d0d" stroke-width="0.3" stroke-linejoin="round">PhMDR</text>
<text x="1543.28" y="359.40" font-size="30.7" textLength="136.91" lengthAdjust="spacingAndGlyphs" fill="#0d0d0d" stroke="#0d0d0d" stroke-width="0.3" stroke-linejoin="round"><tspan font-style="italic">T</tspan> = 300 K</text>
<text x="1147.03" y="814.70" font-size="29.8" textLength="178.71" lengthAdjust="spacingAndGlyphs" fill="#0d0d0d" stroke="#0d0d0d" stroke-width="0.3" stroke-linejoin="round">PL &lt; 650 nm</text>
<text x="1550.91" y="454.90" font-size="24.5" textLength="118.54" lengthAdjust="spacingAndGlyphs" fill="#0000ff" stroke="#0000ff" stroke-width="0.25" stroke-linejoin="round">1 mW cm<tspan font-size="16" dy="-9.5">-2</tspan></text>
<text x="1534.33" y="574.70" font-size="24.5" textLength="131.25" lengthAdjust="spacingAndGlyphs" fill="#ff0000" stroke="#ff0000" stroke-width="0.25" stroke-linejoin="round">10 mW cm<tspan font-size="16" dy="-9.5">-2</tspan></text>
<text x="1537.72" y="811.10" font-size="24.5" textLength="131.35" lengthAdjust="spacingAndGlyphs" fill="#0d0d0d" stroke="#0d0d0d" stroke-width="0.25" stroke-linejoin="round">50 mW cm<tspan font-size="16" dy="-9.5">-2</tspan></text>
<polygon points="1204.60,313.60 1229.80,327.50 1229.80,355.30 1204.60,369.20 1179.40,355.30 1179.40,327.50" fill="#c0c0c0" stroke="#000" stroke-width="3" stroke-linejoin="miter"/>
<line x1="1187.68" y1="330.44" x2="1203.13" y2="321.92" stroke="#000" stroke-width="2.9" stroke-linecap="round"/>
<line x1="1223.00" y1="332.88" x2="1223.00" y2="349.92" stroke="#000" stroke-width="2.9" stroke-linecap="round"/>
<line x1="1203.13" y1="360.88" x2="1187.68" y2="352.36" stroke="#000" stroke-width="2.9" stroke-linecap="round"/>
<line x1="1179.40" y1="327.50" x2="1154.90" y2="313.60" stroke="#000" stroke-width="3" stroke-linecap="round"/>
<polyline points="1163.83,299.14 1160.80,299.22 1162.31,301.85 1159.28,301.93 1160.78,304.56 1157.75,304.63 1159.25,307.27 1156.22,307.34 1157.72,309.97 1154.69,310.05 1156.20,312.68 1153.17,312.76 1154.67,315.39 1151.64,315.47 1153.14,318.10 1150.11,318.18 1151.61,320.81 1148.59,320.89 1150.09,323.52 1147.06,323.60 1148.56,326.23 1145.53,326.31 1147.03,328.94" fill="none" stroke="#000" stroke-width="1.3" stroke-linejoin="round"/>
<line x1="1229.80" y1="327.50" x2="1251.70" y2="313.60" stroke="#000" stroke-width="3" stroke-linecap="round"/>
<polyline points="1243.37,297.77 1242.12,300.53 1245.15,300.37 1243.90,303.13 1246.94,302.97 1245.68,305.73 1248.72,305.57 1247.46,308.33 1250.50,308.17 1249.25,310.93 1252.28,310.77 1251.03,313.53 1254.06,313.37 1252.81,316.13 1255.85,315.97 1254.59,318.73 1257.63,318.57 1256.37,321.33 1259.41,321.17 1258.15,323.93 1261.19,323.77 1259.94,326.53 1262.97,326.37" fill="none" stroke="#000" stroke-width="1.3" stroke-linejoin="round"/>
</g>
</svg>
</body>
</html>
